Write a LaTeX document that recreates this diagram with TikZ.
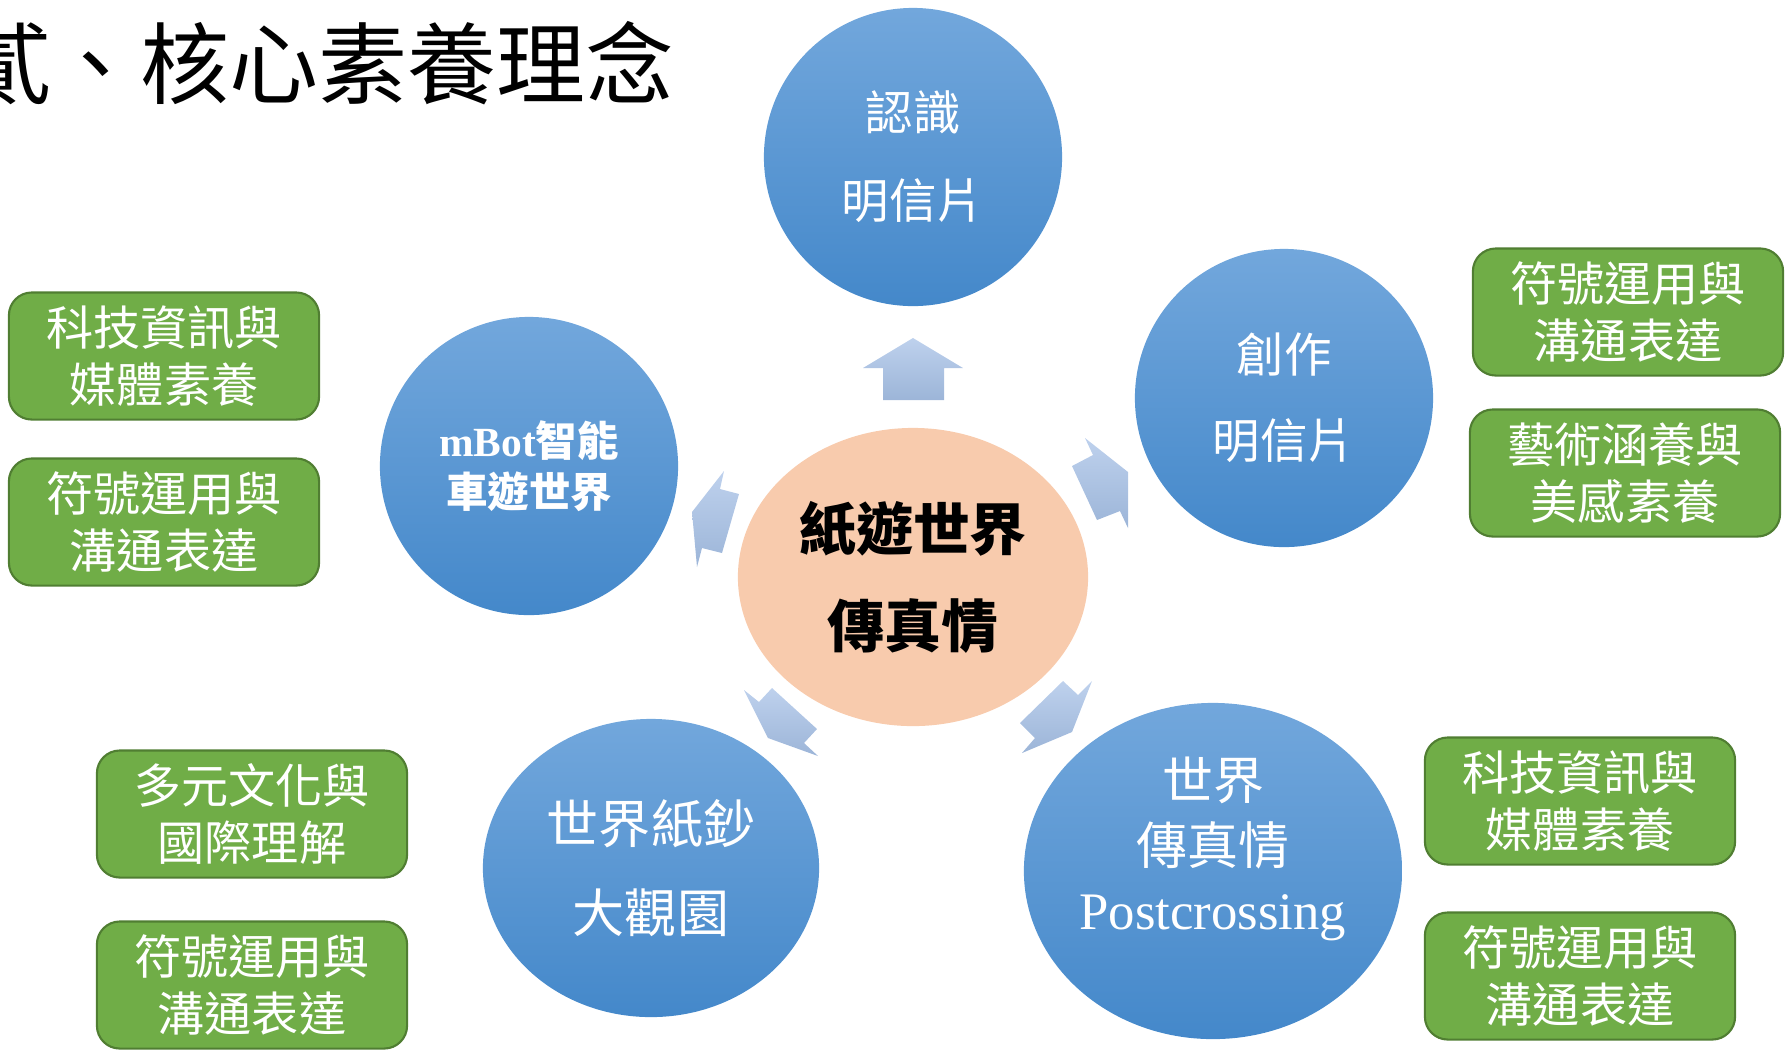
\documentclass[tikz,border=0pt]{standalone}
\usepackage{fontspec}
\setmainfont{Noto Sans CJK TC}
\newfontfamily\latinfont{Liberation Serif}
\usetikzlibrary{shapes.geometric}
\definecolor{topicTop}{RGB}{114,167,220}
\definecolor{topicBot}{RGB}{68,136,202}
\definecolor{arrowTop}{RGB}{190,209,237}
\definecolor{arrowBot}{RGB}{156,181,216}
\definecolor{corePeach}{RGB}{248,203,173}
\definecolor{skillFill}{RGB}{112,173,71}
\definecolor{skillEdge}{RGB}{80,126,50}
\tikzset{
  topic/.style={circle,minimum size=2.98cm,inner sep=0pt,align=center,
    top color=topicTop,bottom color=topicBot,text=white},
  skill/.style={rectangle,rounded corners=6.5pt,minimum width=3.1cm,minimum height=1.27cm,
    inner sep=0pt,align=center,fill=skillFill,draw=skillEdge,line width=0.6pt,text=white,
    font=\fontsize{13.4}{16.2}\selectfont},
  blockarrow/.style={top color=arrowTop,bottom color=arrowBot}
}
\begin{document}
\begin{tikzpicture}[x=0.01cm,y=-0.01cm]
\useasboundingbox (0,0) rectangle (1787,1053);
%title, cut at the left edge
\node[anchor=east,inner sep=0pt,font=\fontsize{25.3}{30}\selectfont] (title) at (675,63) {貳、核心素養理念};
%block arrows out of the centre
\path[blockarrow] (913,338) -- (963,368) -- (944,368) -- (944,400) -- (883,400) -- (883,368) -- (863,368) -- cycle;
\path[blockarrow] (1085,438) -- (1093,455) -- (1072,466) -- (1097,520) -- (1120,511) -- (1128,528) -- (1128,472) -- cycle;
\path[blockarrow] (724,471) -- (720,489) -- (739,494) -- (722,553) -- (702,548) -- (697,567) -- (692,512) -- cycle;
\path[blockarrow] (744,690) -- (759,702) -- (772,688) -- (817,729) -- (804,743) -- (818,756) -- (768,738) -- cycle;
\path[blockarrow] (1063,681) -- (1078,695) -- (1092,681) -- (1072,732) -- (1022,753) -- (1035,738) -- (1020,723) -- cycle;
%centre
\node[ellipse,minimum width=3.5cm,minimum height=2.98cm,inner sep=0pt,fill=corePeach,align=center,
  font=\bfseries\fontsize{16.2}{27.6}\selectfont] (core) at (913,577) {紙遊世界\\傳真情};
%topics
\node[topic,font=\fontsize{13.5}{25}\selectfont] (postcard) at (913,157) {認識\\明信片};
\node[topic,font=\fontsize{13.5}{24.5}\selectfont] (create) at (1284,398) {創作\\明信片};
\node[topic,font=\bfseries\fontsize{11.8}{14.5}\selectfont] (mbot) at (529,466) {{\latinfont mBot}智能\\車遊世界};
\node[topic,ellipse,minimum width=3.36cm,minimum height=2.98cm,font=\fontsize{14.8}{25.3}\selectfont]
  (banknote) at (651,868) {世界紙鈔\\大觀園};
\node[topic,ellipse,minimum width=3.78cm,minimum height=3.36cm] (crossing) at (1213,871) {};
\node[align=center,text=white,inner sep=0pt,font=\fontsize{14.5}{18.5}\selectfont]
  (crossingText) at (1213,849) {世界\\傳真情\\{\latinfont\fontsize{15}{18.5}\selectfont Postcrossing}};
%core competencies
\node[skill] (mbotA) at (164,356) {科技資訊與\\媒體素養};
\node[skill] (mbotB) at (164,522) {符號運用與\\溝通表達};
\node[skill] (noteA) at (252,814) {多元文化與\\國際理解};
\node[skill] (noteB) at (252,985) {符號運用與\\溝通表達};
\node[skill] (createA) at (1628,312) {符號運用與\\溝通表達};
\node[skill] (createB) at (1625,473) {藝術涵養與\\美感素養};
\node[skill] (crossA) at (1580,801) {科技資訊與\\媒體素養};
\node[skill] (crossB) at (1580,976) {符號運用與\\溝通表達};
\end{tikzpicture}
\end{document}
